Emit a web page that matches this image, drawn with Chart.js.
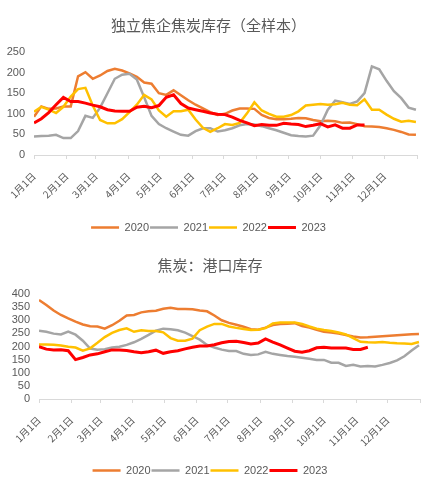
<!DOCTYPE html>
<html>
<head>
<meta charset="utf-8">
<script src="https://cdn.jsdelivr.net/npm/chart.js@4/dist/chart.umd.min.js"></script>
<style>
  html, body { margin: 0; padding: 0; background: #fff; }
  canvas { display: block; }
</style>
</head>
<body>
<canvas id="cokeFactory" width="430" height="243"></canvas>
<canvas id="cokePort" width="430" height="242"></canvas>
<script>
// x axis: day of year, one tick per month start
const monthStarts = [1, 32, 60, 91, 121, 152, 182, 213, 244, 274, 305, 335, 366];
const monthLabels = ['1月1日', '2月1日', '3月1日', '4月1日', '5月1日', '6月1日',
    '7月1日', '8月1日', '9月1日', '10月1日', '11月1日', '12月1日', ''];
const years = ['2020', '2021', '2022', '2023'];
const lineColors = ['#ED7D31', '#A5A5A5', '#FFC000', '#FF0000'];

// 独立焦企焦炭库存（全样本）, weekly
const factory2020 = [93, 118, 112, 113, 118, 118, 191, 201, 185, 193, 204, 209, 205, 198, 190, 176, 173, 150,
    146, 157, 145, 133, 122, 113, 104, 97, 100, 108, 113, 113, 112, 97, 90, 87, 87, 88, 90, 89, 85, 82, 83, 82,
    78, 79, 75, 70, 69, 68, 65, 61, 56, 50, 49];
const factory2021 = [45, 46, 47, 49, 41, 41, 58, 95, 90, 115, 150, 185, 195, 197, 183, 140, 95, 75, 65, 57, 49,
    47, 58, 65, 65, 57, 60, 65, 72, 75, 74, 70, 65, 60, 54, 48, 46, 45, 47, 72, 110, 132, 128, 124, 130, 150,
    215, 208, 180, 155, 138, 115, 110];
const factory2022 = [105, 117, 110, 102, 117, 142, 160, 163, 120, 85, 77, 77, 87, 104, 122, 146, 135, 108, 93,
    106, 106, 110, 86, 66, 56, 65, 75, 73, 78, 101, 128, 108, 100, 93, 93, 97, 106, 120, 122, 124, 122, 123,
    127, 122, 121, 135, 110, 110, 98, 88, 81, 83, 80];
const factory2023 = [78, 88, 103, 122, 140, 130, 130, 126, 121, 117, 110, 107, 106, 106, 116, 118, 115, 120,
    140, 146, 125, 114, 110, 106, 102, 99, 98, 92, 84, 78, 71, 74, 72, 72, 77, 75, 74, 69, 72, 76, 68, 73, 65,
    65, 73, 73];

// 焦炭：港口库存, weekly
const port2020 = [377, 358, 337, 320, 307, 295, 284, 277, 276, 268, 281, 298, 318, 320, 330, 334, 336, 344,
    348, 343, 343, 342, 337, 334, 318, 300, 290, 283, 275, 266, 264, 272, 282, 286, 287, 289, 278, 272, 264,
    256, 253, 249, 244, 238, 234, 235, 237, 239, 241, 243, 245, 247, 248];
const port2021 = [260, 256, 249, 246, 257, 245, 222, 192, 188, 190, 196, 199, 206, 216, 229, 244, 260, 268,
    266, 262, 253, 240, 226, 206, 196, 188, 183, 183, 172, 168, 170, 180, 172, 168, 164, 161, 157, 153, 149,
    149, 138, 138, 126, 130, 124, 126, 124, 130, 137, 147, 163, 185, 205];
const port2022 = [208, 208, 207, 204, 199, 196, 184, 193, 214, 236, 252, 263, 269, 256, 262, 259, 259, 254,
    232, 222, 222, 230, 262, 276, 286, 286, 276, 271, 267, 263, 264, 270, 288, 291, 291, 291, 286, 276, 268,
    263, 259, 253, 246, 232, 218, 216, 215, 217, 214, 212, 211, 210, 217];
const port2023 = [199, 190, 187, 188, 184, 150, 158, 168, 172, 180, 187, 187, 185, 180, 176, 180, 186, 174,
    180, 184, 191, 197, 202, 202, 207, 214, 219, 220, 215, 210, 213, 229, 217, 206, 194, 182, 178, 184, 195,
    197, 194, 194, 194, 189, 189, 197];

const textColor = '#595959';
const axisColor = '#D9D9D9';

function weekly(values) {
    return values.map((v, i) => ({ x: 1 + 7 * i, y: v }));
}

function makeChart(id, conf) {
    const datasets = conf.series.map((vals, i) => ({
        label: years[i],
        data: weekly(vals),
        borderColor: lineColors[i],
        backgroundColor: lineColors[i],
        borderWidth: i === 3 ? 3 : 2.5,
        pointRadius: 0,
        tension: 0,
        order: 3 - i   // later years drawn on top
    }));

    return new Chart(document.getElementById(id), {
        type: 'line',
        data: { datasets: datasets },
        options: {
            responsive: false,
            animation: false,
            layout: { padding: { left: 0, right: conf.padRight, top: 0, bottom: conf.padBottom } },
            plugins: {
                title: {
                    display: true,
                    text: conf.title,
                    color: textColor,
                    font: { family: '"Noto Sans CJK SC"', size: 15, weight: 'normal' },
                    padding: { top: conf.titleTop, bottom: conf.titleGap }
                },
                legend: {
                    position: 'bottom',
                    labels: {
                        usePointStyle: true,
                        pointStyle: 'line',
                        pointStyleWidth: 28,
                        color: textColor,
                        font: { family: '"Liberation Sans"', size: 11 },
                        padding: 1,
                        sort: (a, b) => a.datasetIndex - b.datasetIndex
                    }
                },
                tooltip: { enabled: false }
            },
            scales: {
                x: {
                    type: 'linear',
                    min: 1,
                    max: 366,
                    afterBuildTicks: (scale) => {
                        scale.ticks = monthStarts.map(v => ({ value: v }));
                    },
                    afterFit: (scale) => {
                        scale.height = conf.xHeight;
                        scale.paddingLeft = 0;
                        scale.paddingRight = 0;
                    },
                    ticks: {
                        autoSkip: false,
                        maxRotation: 45,
                        minRotation: 45,
                        padding: 11,
                        color: textColor,
                        font: { family: '"Noto Sans CJK SC"', size: 10 },
                        callback: (value, index) => monthLabels[index]
                    },
                    grid: { drawOnChartArea: false, drawTicks: true, tickLength: 4, color: axisColor },
                    border: { color: axisColor, width: 1 }
                },
                y: {
                    min: 0,
                    max: conf.yMax,
                    afterFit: (scale) => { scale.width = conf.yWidth; },
                    ticks: {
                        stepSize: 50,
                        autoSkip: false,
                        padding: 9,
                        color: textColor,
                        font: { family: '"Liberation Sans"', size: 11 }
                    },
                    grid: { display: false, drawTicks: false },
                    border: { display: false }
                }
            }
        }
    });
}

makeChart('cokeFactory', {
    title: '独立焦企焦炭库存（全样本）',
    series: [factory2020, factory2021, factory2022, factory2023],
    yMax: 250,
    yWidth: 34,
    padRight: 13,
    padBottom: 0,
    titleTop: 16,
    titleGap: 18,
    xHeight: 66
});

makeChart('cokePort', {
    title: '焦炭：港口库存',
    series: [port2020, port2021, port2022, port2023],
    yMax: 400,
    yWidth: 39,
    padRight: 10,
    padBottom: -1,
    titleTop: 13,
    titleGap: 20,
    xHeight: 65
});
</script>
</body>
</html>
